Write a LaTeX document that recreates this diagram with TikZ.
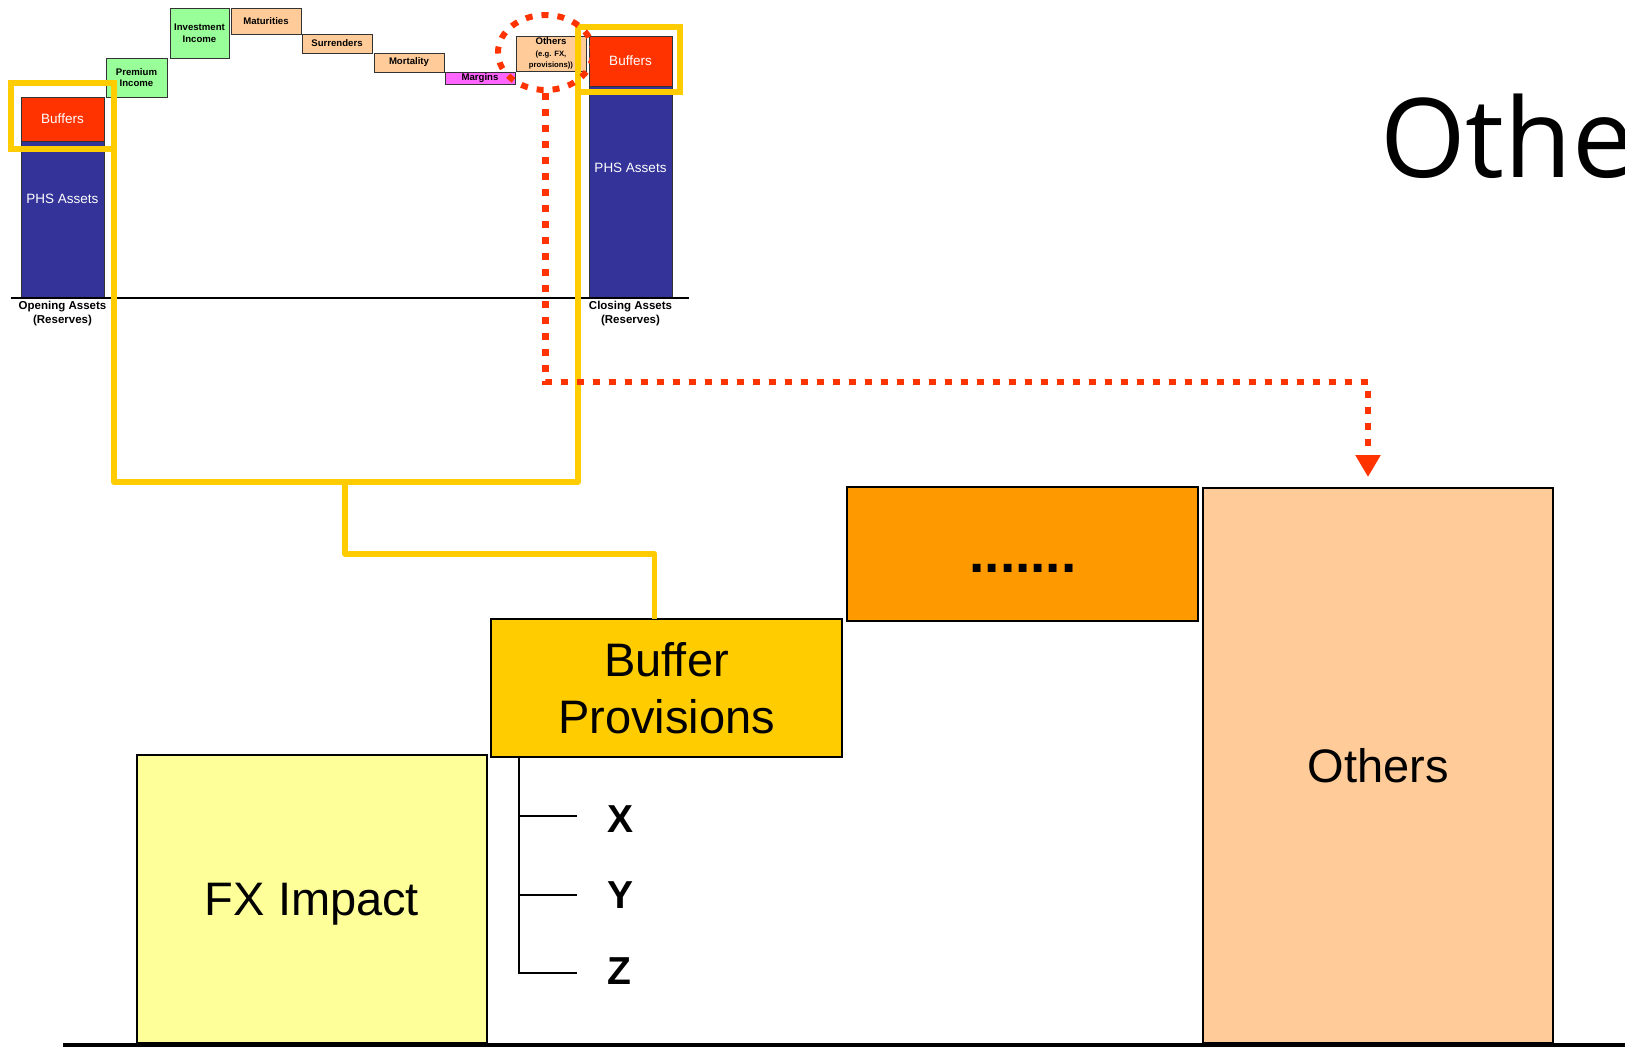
\documentclass[tikz,border=0pt]{standalone}
\usepackage{fontspec}
\setmainfont{Liberation Sans}
\newfontfamily\titlefont{Open Sans}
\usetikzlibrary{arrows.meta,shapes.geometric}
\definecolor{cblue}{HTML}{333399}
\definecolor{cred}{HTML}{FF3300}
\definecolor{cgreen}{HTML}{99FF99}
\definecolor{cpeach}{HTML}{FFCC99}
\definecolor{cmag}{HTML}{FF66FF}
\definecolor{cyel}{HTML}{FFCC00}
\definecolor{cfx}{HTML}{FFFF99}
\definecolor{corange}{HTML}{FF9900}
\begin{document}
\begin{tikzpicture}[x=1pt,y=-1pt,
  topbox/.style={draw=black!80, line width=1pt, inner sep=0pt, outer sep=0pt, anchor=north west, align=center, font=\fontsize{9.6}{11.5}\selectfont\bfseries},
  bartext/.style={text=white, inner sep=0pt, font=\fontsize{13.5}{16}\selectfont},
  bigbox/.style={draw=black, line width=1.8pt, inner sep=0pt, outer sep=0pt, anchor=north west, align=center, font=\fontsize{47}{57}\selectfont},
  yframe/.style={draw=cyel, line width=6pt, inner sep=0pt, outer sep=0pt, anchor=north west},
  yline/.style={draw=cyel, line width=5.5pt, line join=round},
  reddot/.style={draw=cred, line width=6.5pt, dash pattern=on 7pt off 9pt},
  axlabel/.style={font=\fontsize{11.5}{14}\selectfont\bfseries, align=center, anchor=north, inner sep=0pt},
  letter/.style={font=\fontsize{39}{44}\selectfont\bfseries, anchor=base west, inner sep=0pt},
  thinline/.style={draw=black, line width=1.5pt}]
\useasboundingbox (0,0) rectangle (1625,1047);
\clip (0,0) rectangle (1625,1047);
\fill[white] (0,0) rectangle (1625,1047);

% ---------- top waterfall ----------
\node[topbox, fill=cblue, minimum width=83pt, minimum height=157pt] (ob) at (21,141) {};
\node[topbox, fill=cred, minimum width=83pt, minimum height=44pt, bartext] (or) at (21,97) {Buffers};
\node[bartext] (obt) at (62.5,199) {PHS Assets};

\node[topbox, fill=cgreen, minimum width=61pt, minimum height=39pt] (prem) at (106,58) {Premium\\Income};
\node[topbox, fill=cgreen, minimum width=59pt, minimum height=50pt] (inv) at (170,8) {Investment\\Income};
\node[topbox, fill=cpeach, minimum width=70pt, minimum height=26pt] (mat) at (231,8) {Maturities};
\node[topbox, fill=cpeach, minimum width=70pt, minimum height=19pt] (sur) at (302,34) {Surrenders};
\node[topbox, fill=cpeach, minimum width=70pt, minimum height=19pt] (mor) at (374,53) {Mortality};
\node[topbox, fill=cmag, minimum width=70pt, minimum height=12pt] (mar) at (445,72) {Margins};
\node[topbox, fill=cpeach, minimum width=70pt, minimum height=35pt] (oth) at (516,36)
  {Others\\{\fontsize{7.7}{9.5}\selectfont (e.g. FX,}\\{\fontsize{7.7}{9.5}\selectfont provisions))}};

\node[topbox, fill=cblue, minimum width=83pt, minimum height=212pt] (cb) at (589,86) {};
\node[topbox, fill=cred, minimum width=83pt, minimum height=50pt, bartext] (cr) at (589,36) {Buffers};
\node[bartext] (cbt) at (630.5,168) {PHS Assets};

\coordinate (ax1) at (11,298);
\coordinate (ax2) at (689,298);
\draw[line width=1.5pt] (ax1) -- (ax2);
\node[axlabel] (ol) at (62.5,301) {Opening Assets\\(Reserves)};
\node[axlabel] (cl) at (630.5,301) {Closing Assets\\(Reserves)};

% ---------- bottom boxes ----------
\node[bigbox, fill=cfx, minimum width=350pt, minimum height=288pt, text depth=0pt] (fx) at (137,755) {FX Impact};
\node[bigbox, fill=cyel, minimum width=351pt, minimum height=138pt] (bp) at (491,619) {Buffer\\Provisions};
\node[bigbox, fill=corange, minimum width=351pt, minimum height=134pt] (dbox) at (847,487) {};
\node[font=\fontsize{55}{60}\selectfont\bfseries, anchor=base, inner sep=0pt] (dtxt) at (1023,572) {.......};
\node[bigbox, fill=cpeach, minimum width=350pt, minimum height=555pt] (obig) at (1203,488) {Others};

\coordinate (bx1) at (63,1045);
\coordinate (bx2) at (1625,1045);
\draw[line width=4pt] (bx1) -- (bx2);

% bracket with X Y Z
\coordinate (tx) at (577,816);
\coordinate (ty) at (577,895);
\coordinate (tz) at (577,973);
\draw[thinline] ([xshift=28pt]bp.south west) |- (tz);
\draw[thinline] ([xshift=28pt]bp.south west |- tx) -- (tx);
\draw[thinline] ([xshift=28pt]bp.south west |- ty) -- (ty);
\node[letter] (lx) at (607,832) {X};
\node[letter] (ly) at (607,908) {Y};
\node[letter] (lz) at (607,984) {Z};

% ---------- yellow frames and connectors ----------
\node[yframe, minimum width=103.5pt, minimum height=66pt] (yo) at (10.5,83) {};
\node[yframe, minimum width=102pt, minimum height=65pt] (yc) at (578,27) {};
\coordinate (j1) at (345,482);
\coordinate (j2) at (345,554);
\draw[yline] (yo.south east) |- (j1) -| (yc.south west);
\draw[yline] (j1) -- (j2) -| ([xshift=-12pt]bp.north);

% ---------- red dotted highlight ----------
\node[ellipse, draw=cred, line width=6pt, dash pattern=on 7pt off 9pt, minimum width=95pt, minimum height=75pt, inner sep=0pt] (ell) at (545.5,52.5) {};
\coordinate (k) at (1368,382);
\draw[reddot, -{Triangle[width=24pt,length=22pt]}, shorten >=11pt] (ell.south) |- (k) -- ([xshift=-10pt]obig.north);

% ---------- title ----------
\node[font=\titlefont\fontsize{110}{120}\selectfont, anchor=base west, inner sep=0pt] (title) at (1380,177) {Othe};
\end{tikzpicture}
\end{document}
